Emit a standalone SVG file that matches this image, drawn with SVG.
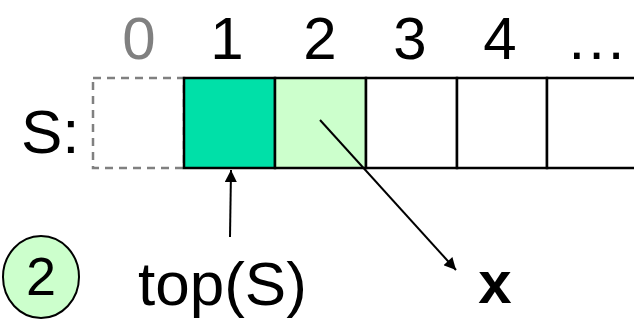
<svg xmlns="http://www.w3.org/2000/svg" width="634" height="321" viewBox="0 0 634 321">
  <style>
    text { font-family: "Liberation Sans", Arial, sans-serif; fill: #000; }
    .idx { font-size: 60px; text-anchor: middle; }
    .cell { fill: #fff; stroke: #000; stroke-width: 2.5; }
    .link { stroke: #000; stroke-width: 2; fill: none; marker-end: url(#arrow); }
  </style>
  <defs>
    <marker id="arrow" viewBox="0 0 10 10" refX="10" refY="5" markerWidth="14" markerHeight="12" markerUnits="userSpaceOnUse" orient="auto">
      <path d="M0,0 L10,5 L0,10 z" fill="#000"/>
    </marker>
  </defs>

  <!-- array indices -->
  <g id="indices">
    <text class="idx" x="139" y="59" style="fill:#808080">0</text>
    <text class="idx" x="227" y="59">1</text>
    <text class="idx" x="320" y="59">2</text>
    <text class="idx" x="410" y="59">3</text>
    <text class="idx" x="500" y="59">4</text>
    <text class="idx" x="598" y="59" letter-spacing="3">...</text>
  </g>

  <g id="label-S">
    <text x="21" y="153" font-size="62">S:</text>
  </g>

  <!-- stack cells -->
  <g id="cell-0">
    <rect x="93" y="78" width="91" height="90" fill="#fff" stroke="#808080" stroke-width="2.5" stroke-dasharray="8,6"/>
  </g>
  <g id="cell-1">
    <rect class="cell" x="184" y="78" width="91" height="90" style="fill:#00e0a8"/>
  </g>
  <g id="cell-2">
    <rect class="cell" x="275" y="78" width="91" height="90" style="fill:#ccffcc"/>
  </g>
  <g id="cell-3">
    <rect class="cell" x="366" y="78" width="91" height="90"/>
  </g>
  <g id="cell-4">
    <rect class="cell" x="457" y="78" width="90" height="90"/>
  </g>
  <g id="cell-5">
    <rect class="cell" x="547" y="78" width="100" height="90"/>
  </g>

  <!-- connectors -->
  <g id="connectors">
    <line class="link" x1="230" y1="237" x2="231" y2="170"/>
    <line class="link" x1="320" y1="120" x2="456" y2="270"/>
  </g>

  <g id="label-top">
    <text x="138" y="305" font-size="62">top(S)</text>
  </g>
  <g id="label-x">
    <text x="495" y="303" font-size="60" font-weight="bold" text-anchor="middle">x</text>
  </g>

  <g id="step-2">
    <ellipse cx="41" cy="277" rx="38" ry="41" fill="#ccffcc" stroke="#000" stroke-width="2"/>
    <text x="41" y="295" font-size="54" text-anchor="middle">2</text>
  </g>
</svg>
